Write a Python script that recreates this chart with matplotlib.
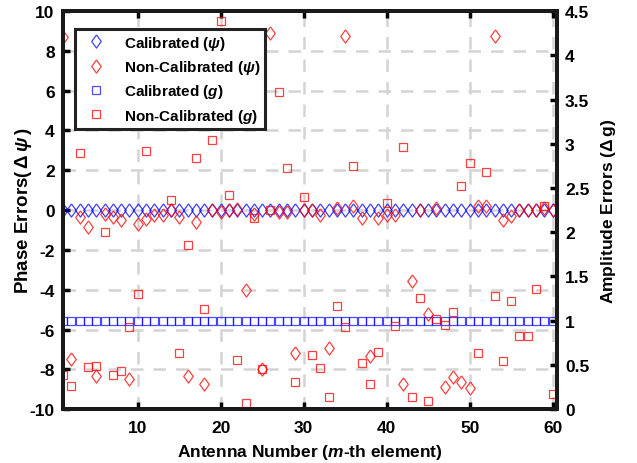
import numpy as np
import matplotlib
matplotlib.use("Agg")
import matplotlib.pyplot as plt

plt.rcParams['font.family'] = ['Liberation Sans', 'DejaVu Sans']
plt.rcParams['font.weight'] = 'bold'
plt.rcParams['axes.unicode_minus'] = False
plt.rcParams['mathtext.fontset'] = 'custom'
plt.rcParams['mathtext.rm'] = 'Liberation Sans:bold'
plt.rcParams['mathtext.it'] = 'Liberation Sans:italic:bold'
plt.rcParams['mathtext.bf'] = 'Liberation Sans:bold'

antenna = np.arange(1, 61)

phase_cal = [0.0] * 60
phase_noncal = [8.7, -7.5, -0.35, -0.85, -8.33, -0.18, -0.35, -0.52, -8.46, -0.69,
                -0.47, -0.25, -0.25, 0.03, -0.35, -8.34, -0.59, -8.74, 0.03, -0.08,
                0.0, 0.08, -4.02, -0.22, -8.0, 8.9, -0.08, -0.08, -7.19, 0.0,
                0.02, -0.25, -6.92, 0.12, 8.74, 0.2, -0.42, -7.32, -0.42, -0.25,
                -0.25, -8.74, -3.58, 0.02, -5.23, 0.12, -8.88, -8.36, -8.63, -8.96,
                0.2, 0.2, 8.73, -0.52, -0.3, 0.0, 0.0, 0.0, 0.1, 0.0]

amp_cal = [1.0] * 60
amp_noncal = [0.39, 0.26, 2.90, 0.48, 0.49, 2.00, 0.39, 0.43, 0.93, 1.30,
              2.92, 3.70, 3.40, 2.36, 0.64, 1.86, 2.84, 1.13, 3.04, 4.39,
              2.42, 0.56, 0.07, 2.16, 0.45, 2.25, 3.59, 2.73, 0.31, 2.40,
              0.61, 0.46, 0.14, 1.17, 0.93, 2.75, 0.52, 0.28, 0.65, 2.33,
              0.94, 2.96, 0.14, 1.26, 0.09, 1.02, 0.95, 1.10, 2.52, 2.78,
              0.63, 2.68, 1.28, 0.54, 1.22, 0.83, 0.83, 1.36, 2.30, 0.17]

left_ticks = list(range(-10, 11, 2))
right_ticks = [0, 0.5, 1, 1.5, 2, 2.5, 3, 3.5, 4, 4.5]
right_labels = ['0', '0.5', '1', '1.5', '2', '2.5', '3', '3.5', '4', '4.5']
x_ticks = [10, 20, 30, 40, 50, 60]

diamond = [(0, 1), (0.72, 0), (0, -1), (-0.72, 0), (0, 1)]

fig = plt.figure(figsize=(6.37, 4.64), dpi=100)
ax = fig.add_axes([0.099, 0.116, 0.775, 0.858])
ax2 = ax.twinx()

blue = '#0000ff'
red = '#ff0000'

h1, = ax.plot(antenna, phase_cal, linestyle='none', marker=diamond, markersize=9.5,
              markerfacecolor='none', markeredgecolor=blue, markeredgewidth=0.9, alpha=0.75,
              label=r'Calibrated ($\psi$)')
h2, = ax.plot(antenna, phase_noncal, linestyle='none', marker=diamond, markersize=9.5,
              markerfacecolor='none', markeredgecolor=red, markeredgewidth=0.9, alpha=0.75,
              label=r'Non-Calibrated ($\psi$)')
h3, = ax2.plot(antenna, amp_cal, linestyle='none', marker='s', markersize=6.2,
               markerfacecolor='none', markeredgecolor=blue, markeredgewidth=0.9, alpha=0.7,
               label=r'Calibrated ($g$)')
h4, = ax2.plot(antenna, amp_noncal, linestyle='none', marker='s', markersize=6.2,
               markerfacecolor='none', markeredgecolor=red, markeredgewidth=0.9, alpha=0.75,
               label=r'Non-Calibrated ($g$)')

ax.set_xlim(1, 60.5)
ax.set_ylim(-10, 10)
ax2.set_ylim(0, 4.5)
ax.set_xticks(x_ticks)
ax.set_yticks(left_ticks)
ax2.set_yticks(right_ticks)
ax2.set_yticklabels(right_labels)

ax.grid(True, color='#d4d4d4', linestyle=(0, (5, 4)), linewidth=1.8)
ax.set_axisbelow(True)

for a in (ax, ax2):
    for s in a.spines.values():
        s.set_linewidth(2.8)
        s.set_color('#1a1a1a')
ax.tick_params(axis='x', direction='in', length=5, width=2.5, labelsize=12.5,
               top=True, pad=8)
ax.tick_params(axis='y', direction='in', length=5, width=2.5, labelsize=12.5,
               right=False, pad=6)
ax2.tick_params(axis='y', direction='in', length=5, width=2.5, labelsize=12.5, pad=6)
for lbl in ax.get_xticklabels() + ax.get_yticklabels() + ax2.get_yticklabels():
    lbl.set_fontweight('bold')

ax.set_xlabel(r'Antenna Number ($m$-th element)', fontsize=12.5, fontweight='bold', labelpad=5)
ax.set_ylabel(r'Phase Errors($\,\Delta\,\psi\,$)', fontsize=13.5, fontweight='bold')
ax.yaxis.set_label_coords(-0.058, 0.5)
ax2.set_ylabel(r'Amplitude Errors ($\Delta\,$g)', fontsize=12.5, fontweight='bold', labelpad=7)

leg = ax2.legend(handles=[h1, h2, h3, h4], loc='upper left',
                 bbox_to_anchor=(0.024, 0.955), borderaxespad=0, fancybox=False,
                 framealpha=1, edgecolor='#222222', prop={'weight': 'bold', 'size': 11},
                 handletextpad=0.7, labelspacing=0.42, handlelength=2.2, borderpad=0.3)
leg.get_frame().set_linewidth(2.2)

fig.savefig('out.png', dpi=100)
